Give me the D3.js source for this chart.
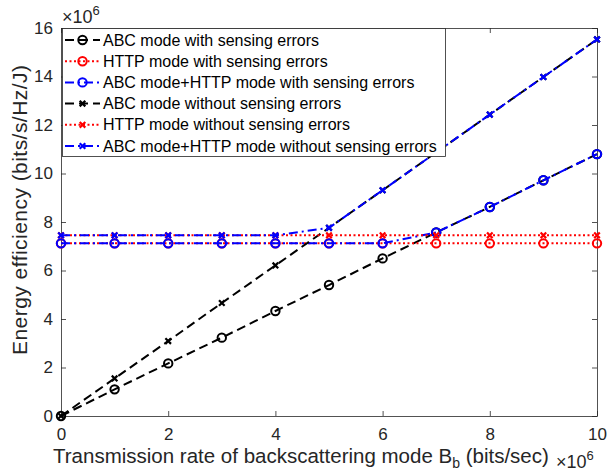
<!DOCTYPE html>
<html>
<head>
<meta charset="utf-8">
<script src="https://cdn.jsdelivr.net/npm/d3@7"></script>
<style>
  html, body { margin: 0; padding: 0; background: #fff; }
  svg { display: block; font-family: "Liberation Sans", Arial, Helvetica, sans-serif; }
</style>
</head>
<body>
<svg id="chart" width="608" height="472"></svg>
<script>
// ---- Data (values in units of 10^6) ----
const rates = [0, 1, 2, 3, 4, 5, 6, 7, 8, 9, 10];              // B_b, ×10^6 bits/sec
const abcWithErr   = [0, 1.10, 2.17, 3.23, 4.33, 5.40, 6.50, 7.57, 8.62, 9.72, 10.80];
const httpWithErr  = [7.12, 7.12, 7.12, 7.12, 7.12, 7.12, 7.12, 7.12, 7.12, 7.12, 7.12];
const comboWithErr = [7.12, 7.12, 7.12, 7.12, 7.12, 7.12, 7.12, 7.57, 8.62, 9.72, 10.80];
const abcNoErr     = [0, 1.55, 3.09, 4.66, 6.21, 7.76, 9.31, 10.87, 12.43, 13.98, 15.53];
const httpNoErr    = [7.45, 7.45, 7.45, 7.45, 7.45, 7.45, 7.45, 7.45, 7.45, 7.45, 7.45];
const comboNoErr   = [7.45, 7.45, 7.45, 7.45, 7.45, 7.76, 9.31, 10.87, 12.43, 13.98, 15.53];
const seriesNames = [
  "ABC mode with sensing errors",
  "HTTP mode with sensing errors",
  "ABC mode+HTTP mode with sensing errors",
  "ABC mode without sensing errors",
  "HTTP mode without sensing errors",
  "ABC mode+HTTP mode without sensing errors"
];
const xTicks = [0, 2, 4, 6, 8, 10];
const yTicks = [0, 2, 4, 6, 8, 10, 12, 14, 16];

// ---- Styles ----
const styles = [
  {color: "#000000", dash: "9,5",      marker: "o"},
  {color: "#ff0000", dash: "2,2.5",    marker: "o"},
  {color: "#0000ff", dash: "9,4,2,4",  marker: "o"},
  {color: "#000000", dash: "9,5",      marker: "x"},
  {color: "#ff0000", dash: "2,2.5",    marker: "x"},
  {color: "#0000ff", dash: "9,4,2,4",  marker: "x"}
];
const seriesValues = [abcWithErr, httpWithErr, comboWithErr, abcNoErr, httpNoErr, comboNoErr];

const svg = d3.select("#chart");
const L = 61, R = 597, T = 28, B = 416;
const x = d3.scaleLinear().domain([0, 10]).range([L, R]);
const y = d3.scaleLinear().domain([0, 16]).range([B, T]);
const axisColor = "#262626";
const tickFont = 17;

// Axes (MATLAB style box with inward ticks)
const gx = svg.append("g").attr("transform", `translate(0,${B})`)
  .call(d3.axisBottom(x).tickValues(xTicks).tickSizeInner(-5).tickSizeOuter(0).tickPadding(12));
const gxTop = svg.append("g").attr("transform", `translate(0,${T})`)
  .call(d3.axisTop(x).tickValues(xTicks).tickSizeInner(-5).tickSizeOuter(0).tickFormat(""));
const gy = svg.append("g").attr("transform", `translate(${L},0)`)
  .call(d3.axisLeft(y).tickValues(yTicks).tickSizeInner(-5).tickSizeOuter(0).tickPadding(8));
const gyR = svg.append("g").attr("transform", `translate(${R},0)`)
  .call(d3.axisRight(y).tickValues(yTicks).tickSizeInner(-5).tickSizeOuter(0).tickFormat(""));
[gx, gxTop, gy, gyR].forEach(g => {
  g.select(".domain").attr("stroke", axisColor).attr("stroke-width", 0.8);
  g.selectAll(".tick line").attr("stroke", axisColor).attr("stroke-width", 0.8);
  g.selectAll(".tick text").attr("fill", axisColor).style("font-size", tickFont + "px")
    .style("font-family", '"Liberation Sans", Arial, sans-serif');
});

// Series
const plot = svg.append("g");
seriesValues.forEach((vals, i) => {
  const st = styles[i];
  const pts = rates.map((r, j) => [r, vals[j]]);
  const line = d3.line().x(d => x(d[0])).y(d => y(d[1]));
  plot.append("path").datum(pts).attr("d", line)
    .attr("fill", "none").attr("stroke", st.color).attr("stroke-width", 2)
    .attr("stroke-dasharray", st.dash);
  const g = plot.append("g");
  pts.forEach(p => drawMarker(g, x(p[0]), y(p[1]), st));
});

function drawMarker(g, cx, cy, st) {
  if (st.marker === "o") {
    g.append("circle").attr("cx", cx).attr("cy", cy).attr("r", 4.2)
      .attr("fill", "none").attr("stroke", st.color).attr("stroke-width", 2);
  } else {
    const s = 2.8;
    g.append("path").attr("d", `M${cx - s},${cy - s}L${cx + s},${cy + s}M${cx - s},${cy + s}L${cx + s},${cy - s}`)
      .attr("stroke", st.color).attr("stroke-width", 2.2).attr("fill", "none");
  }
}

// Legend
const leg = svg.append("g");
leg.append("rect").attr("x", 62.5).attr("y", 28.5).attr("width", 383).attr("height", 128)
  .attr("fill", "#fff").attr("stroke", axisColor).attr("stroke-width", 0.8);
seriesNames.forEach((name, i) => {
  const st = styles[i];
  const cy = 40 + i * 21.2;
  leg.append("line").attr("x1", 65).attr("x2", 100).attr("y1", cy).attr("y2", cy)
    .attr("stroke", st.color).attr("stroke-width", 2).attr("stroke-dasharray", st.dash);
  drawMarker(leg, 82.5, cy, st);
  leg.append("text").attr("x", 103).attr("y", cy + 5.5).text(name)
    .attr("fill", "#000").style("font-size", "16px");
});

// Exponent labels
const yExp = svg.append("text").attr("x", 62).attr("y", 23).attr("fill", axisColor).style("font-size", "18px");
yExp.append("tspan").text("\u00d710");
yExp.append("tspan").attr("dy", -8).style("font-size", "13px").text("6");
const xExp = svg.append("text").attr("x", 556).attr("y", 468).attr("fill", axisColor).style("font-size", "18px");
xExp.append("tspan").text("\u00d710");
xExp.append("tspan").attr("dy", -8).style("font-size", "13px").text("6");

// Axis titles
const xt = svg.append("text").attr("x", 53).attr("y", 462.5)
  .attr("fill", axisColor).style("font-size", "20.5px");
xt.append("tspan").text("Transmission rate of backscattering mode B");
xt.append("tspan").attr("dy", 5).style("font-size", "14px").text("b");
xt.append("tspan").attr("dy", -5).text(" (bits/sec)");

svg.append("text").attr("transform", `translate(27,210) rotate(-90)`).attr("text-anchor", "middle")
  .attr("fill", axisColor).style("font-size", "21px")
  .attr("textLength", 290).attr("lengthAdjust", "spacing")
  .text("Energy efficiency (bits/s/Hz/J)");
</script>
</body>
</html>
